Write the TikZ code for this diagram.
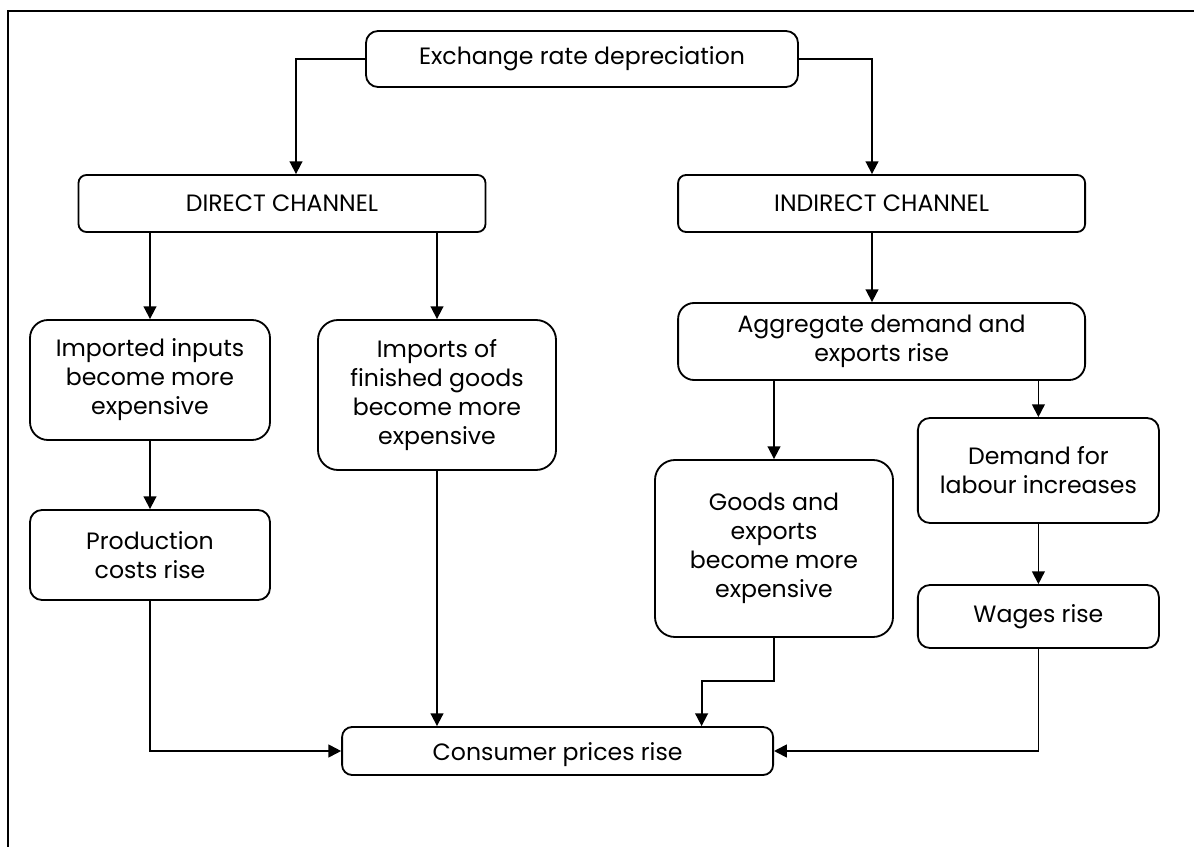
\documentclass[tikz,border=0pt]{standalone}
\usepackage{fontspec}
\setmainfont{Poppins}
\usetikzlibrary{arrows.meta,calc}

\begin{document}
\begin{tikzpicture}
            \tikzstyle{every node}=[font=\fontsize{16.8}{20.6}\selectfont]
            \tikzstyle{box}=[draw, line width=1.3pt, rounded corners=0.3cm, align=center, inner sep=0pt]
            \tikzstyle{arr}=[line width=1.3pt, -{Triangle[length=0.32cm,width=0.32cm]}]

            \useasboundingbox (0,0) rectangle (29.85,21.15);
            \draw[line width=1.3pt] (0.2,-1) rectangle (31,20.875);

            \node[box, minimum width=10.8cm, minimum height=1.4cm] (exch) at (14.55,19.675) {Exchange rate depreciation};

            \node[box, rounded corners=0.2cm, minimum width=10.175cm, minimum height=1.425cm] (direct) at (7.05,16.0625) {DIRECT CHANNEL};
            \node[box, rounded corners=0.2cm, minimum width=10.175cm, minimum height=1.425cm] (indirect) at (22.04,16.0625) {INDIRECT CHANNEL};

            \node[box, rounded corners=0.45cm, minimum width=6cm, minimum height=3cm] (imported) at (3.75,11.65) {Imported inputs\\become more\\expensive};
            \node[box, rounded corners=0.5cm, minimum width=5.95cm, minimum height=3.75cm] (finished) at (10.925,11.275) {Imports of\\finished goods\\become more\\expensive};
            \node[box, rounded corners=0.4cm, minimum width=10.175cm, minimum height=1.925cm] (aggregate) at (22.04,12.6125) {Aggregate demand and\\exports rise};

            \node[box, minimum width=6cm, minimum height=2.25cm] (production) at (3.75,7.275) {Production\\costs rise};
            \node[box, rounded corners=0.5cm, minimum width=5.95cm, minimum height=4.425cm] (goods) at (19.35,7.4375) {Goods and\\exports\\become more\\expensive};
            \node[box, minimum width=6.025cm, minimum height=2.625cm] (demand) at (25.96,9.3875) {Demand for\\labour increases};
            \node[box, minimum width=6.025cm, minimum height=1.575cm] (wages) at (25.96,5.7375) {Wages rise};

            \node[box, rounded corners=0.25cm, minimum width=10.775cm, minimum height=1.2cm] (consumer) at (13.94,2.375) {};
            \node[yshift=-0.1cm] (consumertext) at (consumer) {Consumer prices rise};

            \draw[arr] (exch.west) -| ($(direct.north)+(0.35,0)$);
            \draw[arr] (exch.east) -| ($(indirect.north)+(-0.24,0)$);

            \draw[arr] (direct.south -| imported.north) -- (imported.north);
            \draw[arr] (direct.south -| finished.north) -- (finished.north);
            \draw[arr] ($(indirect.south)+(-0.24,0)$) -- ($(aggregate.north)+(-0.24,0)$);

            \draw[arr] (imported) -- (production);
            \draw[arr] (aggregate.south -| goods.north) -- (goods.north);
            \draw[arr] (aggregate.south -| demand.north) -- (demand.north);
            \draw[arr] (demand) -- (wages);

            \draw[arr] (production.south) |- (consumer.west);
            \draw[arr] (finished.south) -- (finished.south |- consumer.north);
            \draw[arr] (goods.south) -- ++(0,-1.075) -| ($(consumer.north)+(3.6,0)$);
            \draw[arr] (wages.south) |- (consumer.east);

          \end{tikzpicture}
\end{document}
